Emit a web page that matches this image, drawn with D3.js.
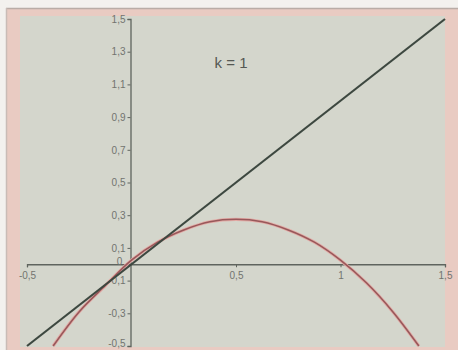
<!DOCTYPE html>
<html>
<head>
<meta charset="utf-8">
<script src="https://cdn.jsdelivr.net/npm/d3@7/dist/d3.min.js"></script>
<style>
  html, body { margin: 0; padding: 0; background: #f3f1ee; }
  svg { display: block; }
  text { font-family: "Liberation Sans", Arial, sans-serif; }
</style>
</head>
<body>
<svg id="chart" width="458" height="350"></svg>
<script>
// Diagonal y = x (k = 1)
const lineX = [-0.5, 1.5];
const lineY = [-0.5, 1.5];

// Parabola sampled points
const curveX = [-0.375, -0.25, -0.125, 0, 0.125, 0.25, 0.375, 0.5, 0.625, 0.75, 0.875, 1.0, 1.125, 1.25, 1.375];
const curveY = [-0.50, -0.29, -0.13, 0.025, 0.135, 0.21, 0.26, 0.275, 0.26, 0.21, 0.135, 0.025, -0.115, -0.29, -0.50];

// Axis ticks
const xTicks = [-0.5, 0.5, 1, 1.5];
const xTickLabels = ["-0,5", "0,5", "1", "1,5"];
const yTicks = [1.5, 1.3, 1.1, 0.9, 0.7, 0.5, 0.3, 0.1, -0.1, -0.3, -0.5];
const yTickLabels = ["1,5", "1,3", "1,1", "0,9", "0,7", "0,5", "0,3", "0,1", "-0,1", "-0,3", "-0,5"];

const title = "k = 1";

const svg = d3.select("#chart");

// Frame: outer border line, pink mat, grey plot field
svg.append("rect").attr("x", 6).attr("y", 8).attr("width", 452).attr("height", 342)
  .attr("fill", "#e9cbc2");
svg.append("line").attr("x1", 6).attr("x2", 458).attr("y1", 8.5).attr("y2", 8.5)
  .attr("stroke", "#b9aca6").attr("stroke-width", 1.5);
svg.append("line").attr("x1", 6.5).attr("x2", 6.5).attr("y1", 8).attr("y2", 350)
  .attr("stroke", "#c9bcb6").attr("stroke-width", 1.5);
svg.append("rect").attr("x", 20).attr("y", 16).attr("width", 425).attr("height", 331)
  .attr("fill", "#d4d6cc");

const x = d3.scaleLinear().domain([-0.5, 1.5]).range([27, 445]);
const y = d3.scaleLinear().domain([-0.5, 1.5]).range([346, 19]);

const axisColor = "#5f645e";
const labelColor = "#72746f";
const fs = 10;

// X axis
const xAxis = svg.append("g").attr("transform", `translate(0,${y(0)})`)
  .call(d3.axisBottom(x).tickValues(xTicks).tickSize(3).tickPadding(5)
    .tickFormat((d, i) => xTickLabels[i]));
xAxis.select(".domain").attr("stroke", axisColor).attr("stroke-width", 1.3);
xAxis.selectAll(".tick line").attr("stroke", axisColor);
xAxis.selectAll("text").attr("fill", labelColor).attr("font-size", fs);

// Y axis
const yAxis = svg.append("g").attr("transform", `translate(${x(0) - 1},0)`)
  .call(d3.axisLeft(y).tickValues(yTicks).tickSize(3).tickPadding(2)
    .tickFormat((d, i) => yTickLabels[i]));
yAxis.select(".domain").attr("stroke", axisColor).attr("stroke-width", 1.3);
yAxis.selectAll(".tick line").attr("stroke", axisColor);
yAxis.selectAll("text").attr("fill", labelColor).attr("font-size", fs);
// keep the lowest label inside the frame
yAxis.selectAll(".tick").filter(d => d === -0.5).select("text").attr("dy", "0.05em");

// Origin label
svg.append("text").attr("x", x(0) - 12).attr("y", y(0) + 1)
  .attr("fill", labelColor).attr("font-size", fs).attr("text-anchor", "middle")
  .text("0");

// Parabola: pinkish halo under a brownish-red stroke
const curvePts = curveX.map((d, i) => [d, curveY[i]]);
const curveGen = d3.line().x(d => x(d[0])).y(d => y(d[1])).curve(d3.curveCatmullRom.alpha(0.5));
svg.append("path").attr("d", curveGen(curvePts)).attr("fill", "none")
  .attr("stroke", "#e3aaa5").attr("stroke-width", 3.2);
svg.append("path").attr("d", curveGen(curvePts)).attr("fill", "none")
  .attr("stroke", "#98585a").attr("stroke-width", 1.6);

// Diagonal line
const linePts = lineX.map((d, i) => [d, lineY[i]]);
svg.append("path").attr("d", d3.line().x(d => x(d[0])).y(d => y(d[1]))(linePts))
  .attr("fill", "none").attr("stroke", "#3d4840").attr("stroke-width", 2.2);

// Title
svg.append("text").attr("x", 231).attr("y", 68).attr("text-anchor", "middle")
  .attr("fill", "#555853").attr("font-size", 15).text(title);
</script>
</body>
</html>
